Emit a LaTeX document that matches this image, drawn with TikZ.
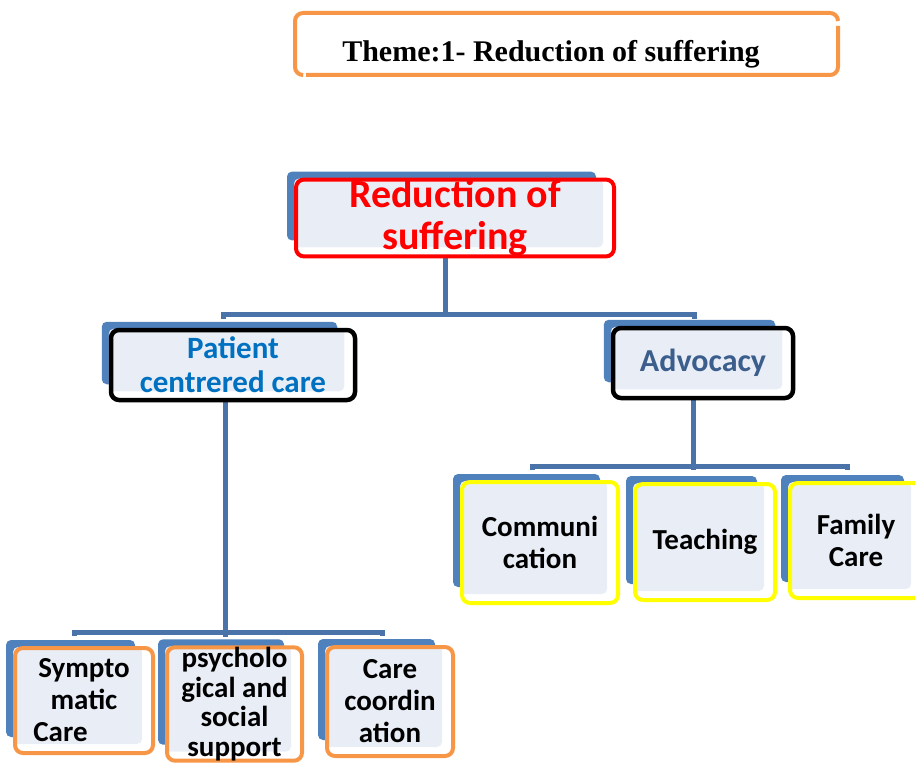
\documentclass[tikz,border=0pt]{standalone}
\usepackage{fontspec}
\setmainfont{Carlito}
\newfontfamily\titlefont{Liberation Serif}
\usetikzlibrary{calc,backgrounds}
\definecolor{boxblue}{HTML}{4F81BD}
\definecolor{boxfill}{HTML}{E9EEF6}
\definecolor{linkblue}{HTML}{4A73AA}
\definecolor{rimorange}{HTML}{F79646}
\definecolor{rimyellow}{HTML}{FFFF00}
\definecolor{rimred}{HTML}{FF0000}
\definecolor{pccblue}{HTML}{0070C0}
\definecolor{advblue}{HTML}{3B5E8C}
\tikzset{
  card/.style={draw, line width=4pt, rounded corners=8pt, align=center, inner sep=0pt,
    font=\bfseries\fontsize{29}{32}\selectfont},
  redrim/.style={card, draw=rimred},
  blackrim/.style={card, draw=black, line width=4.5pt},
  yellowrim/.style={card, draw=rimyellow},
  orangerim/.style={card, draw=rimorange},
  backfill/.style={fill=boxfill, rounded corners=5pt},
  backblue/.style={fill=boxblue, rounded corners=5pt},
  link/.style={draw=linkblue, line width=5pt},
  frame/.style={draw=rimorange, line width=4pt, rounded corners=8pt},
  titletext/.style={font=\titlefont\bfseries\fontsize{30}{32}\selectfont},
}

\begin{document}
\begin{tikzpicture}[x=1pt,y=-1pt]
  \useasboundingbox (0,0) rectangle (915,765);

  % theme heading
  \draw[frame] (306,75) -- (838,75) -- (838,26);
  \draw[frame] (301,75) -- (295,75) -- (295,13) -- (838,13) -- (838,21);
  \node[titletext] (theme) at (551,54) {Theme:1- Reduction of suffering};

  % boxes
  \node[redrim, minimum width=318pt, minimum height=74pt, text=rimred,
        font=\bfseries\fontsize{40}{42}\selectfont] (root) at (455,218) {Reduction of\\suffering};
  \node[blackrim, minimum width=244pt, minimum height=70pt, text=pccblue,
        font=\bfseries\fontsize{31}{34}\selectfont] (pcc) at (233,365) {Patient\\centrered care};
  \node[blackrim, minimum width=180pt, minimum height=70pt, text=advblue,
        font=\bfseries\fontsize{32}{34}\selectfont] (adv) at (703,363) {Advocacy};

  \node[yellowrim, minimum width=156pt, minimum height=121pt] (comm) at (540,542.5) {Communi\\cation};
  \node[yellowrim, minimum width=140pt, minimum height=116pt] (teach) at (705,542) {Teaching};
  \node[yellowrim, minimum width=132pt, minimum height=115pt] (fam) at (856,540.5) {Family\\Care};

  \node[orangerim, minimum width=138pt, minimum height=105pt] (symp) at (84,700.5) {Sympto\\matic\\Care\hspace*{47pt}};
  \node[orangerim, minimum width=135pt, minimum height=105pt,
        font=\bfseries\fontsize{29}{29.5}\selectfont] (psy) at (234.5,704) {psycholo\\gical and\\social\\support};
  \node[orangerim, minimum width=126pt, minimum height=109pt] (coord) at (390,701.5) {Care\\coordin\\ation};

  % junctions and tick ends
  \coordinate (rj) at (445,314);
  \coordinate (pcctick) at (223,319);
  \coordinate (advtick) at (694,319);
  \coordinate (aj) at (693,466);
  \coordinate (commtick) at (532,470);
  \coordinate (famtick) at (847,470);
  \coordinate (pj) at (225,632);
  \coordinate (symptick) at (74,636);
  \coordinate (coordtick) at (382,636);

  \begin{scope}[on background layer]
    \draw[link] (rj |- root.south) -- ([yshift=-2pt]rj);
    \draw[link] (pcctick) |- (rj) -| (advtick);
    \draw[link] (aj |- adv.south) -- ([yshift=-4pt]aj);
    \draw[link] (commtick) |- (aj) -| (famtick);
    \draw[link] (pj |- pcc.south) -- ([yshift=-5pt]pj);
    \draw[link] (symptick) |- (pj) -| (coordtick);
    \foreach \n in {root,pcc,adv,comm,teach,fam,symp,psy,coord}{
      \fill[backblue] ($(\n.north west)+(-7,-6)$) rectangle ($(\n.south east)+(-20,-18)$);
      \fill[backfill] ($(\n.north west)+(0,1)$) rectangle ($(\n.south east)+(-13,-11)$);
    }
  \end{scope}
\end{tikzpicture}
\end{document}
